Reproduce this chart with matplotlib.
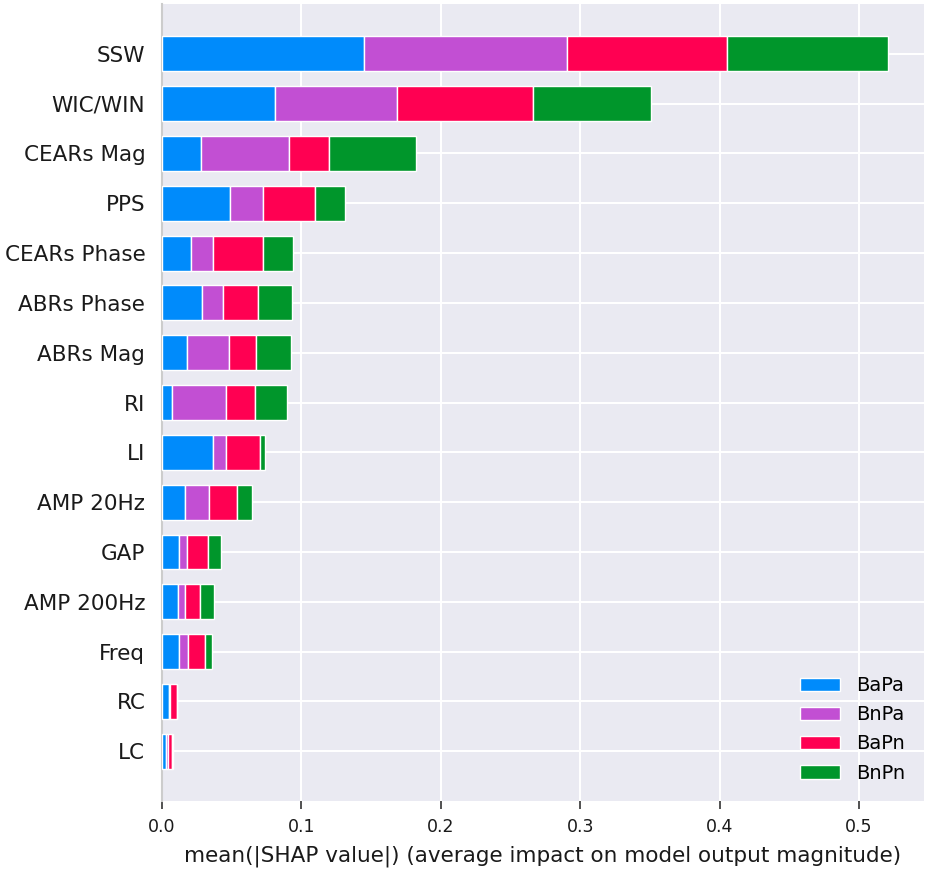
import matplotlib
matplotlib.use("Agg")
import matplotlib.pyplot as plt
import numpy as np

features = ["SSW", "WIC/WIN", "CEARs Mag", "PPS", "CEARs Phase", "ABRs Phase",
            "ABRs Mag", "RI", "LI", "AMP 20Hz", "GAP", "AMP 200Hz", "Freq", "RC", "LC"]
classes = ["BaPa", "BnPa", "BaPn", "BnPn"]
colors = ["#008bfb", "#c24fd3", "#ff0052", "#00962b"]

BaPa = [0.1451, 0.0813, 0.0278, 0.0486, 0.0206, 0.0287, 0.0182, 0.0072, 0.0366, 0.0163, 0.0122, 0.0115, 0.0122, 0.0050, 0.0031]
BnPa = [0.1452, 0.0875, 0.0631, 0.0239, 0.0162, 0.0148, 0.0301, 0.0389, 0.0095, 0.0177, 0.0057, 0.0052, 0.0062, 0.0008, 0.0012]
BaPn = [0.1148, 0.0971, 0.0289, 0.0373, 0.0359, 0.0251, 0.0194, 0.0204, 0.0240, 0.0200, 0.0153, 0.0103, 0.0127, 0.0047, 0.0030]
BnPn = [0.1155, 0.0847, 0.0622, 0.0212, 0.0215, 0.0244, 0.0246, 0.0232, 0.0040, 0.0103, 0.0091, 0.0105, 0.0050, 0.0002, 0.0003]
series = [BaPa, BnPa, BaPn, BnPn]

fig = plt.figure(figsize=(9.35, 8.72), dpi=100)
ax = fig.add_axes([0.1733, 0.0814, 0.8149, 0.914])
ax.set_facecolor("#eaeaf2")

n = len(features)
y = np.arange(n)[::-1]
left = np.zeros(n)
for name, vals, c in zip(classes, series, colors):
    vals = np.array(vals)
    ax.barh(y, vals, left=left, height=0.7, color=c, edgecolor="white",
            linewidth=1.0, label=name, zorder=3)
    left += vals

ax.set_ylim(-1, 15)
ax.set_xlim(0, left.max() * 1.05)
ax.set_yticks(y)
ax.set_yticklabels(features, fontsize=15.5)
ax.set_xticks([0.0, 0.1, 0.2, 0.3, 0.4, 0.5])
ax.set_xticklabels(["0.0", "0.1", "0.2", "0.3", "0.4", "0.5"], fontsize=12.5)
ax.grid(True, color="white", linewidth=1.5, zorder=0)
ax.set_axisbelow(True)
for s in ["top", "right", "bottom"]:
    ax.spines[s].set_visible(False)
ax.spines["left"].set_color("#cccccc")
ax.spines["left"].set_linewidth(1.5)
ax.tick_params(axis="y", length=0, pad=12, colors="#1a1a1a")
ax.tick_params(axis="x", length=6, width=1.2, color="#333333", labelcolor="#1a1a1a", pad=6)
ax.set_xlabel("mean(|SHAP value|) (average impact on model output magnitude)",
              fontsize=15.5, color="#1a1a1a", labelpad=7)

ax.legend(loc="lower right", frameon=False, fontsize=14, handlelength=2.05,
          handleheight=0.7, handletextpad=0.85, labelspacing=0.52,
          borderaxespad=0.55)

fig.savefig("out.png", dpi=100)
